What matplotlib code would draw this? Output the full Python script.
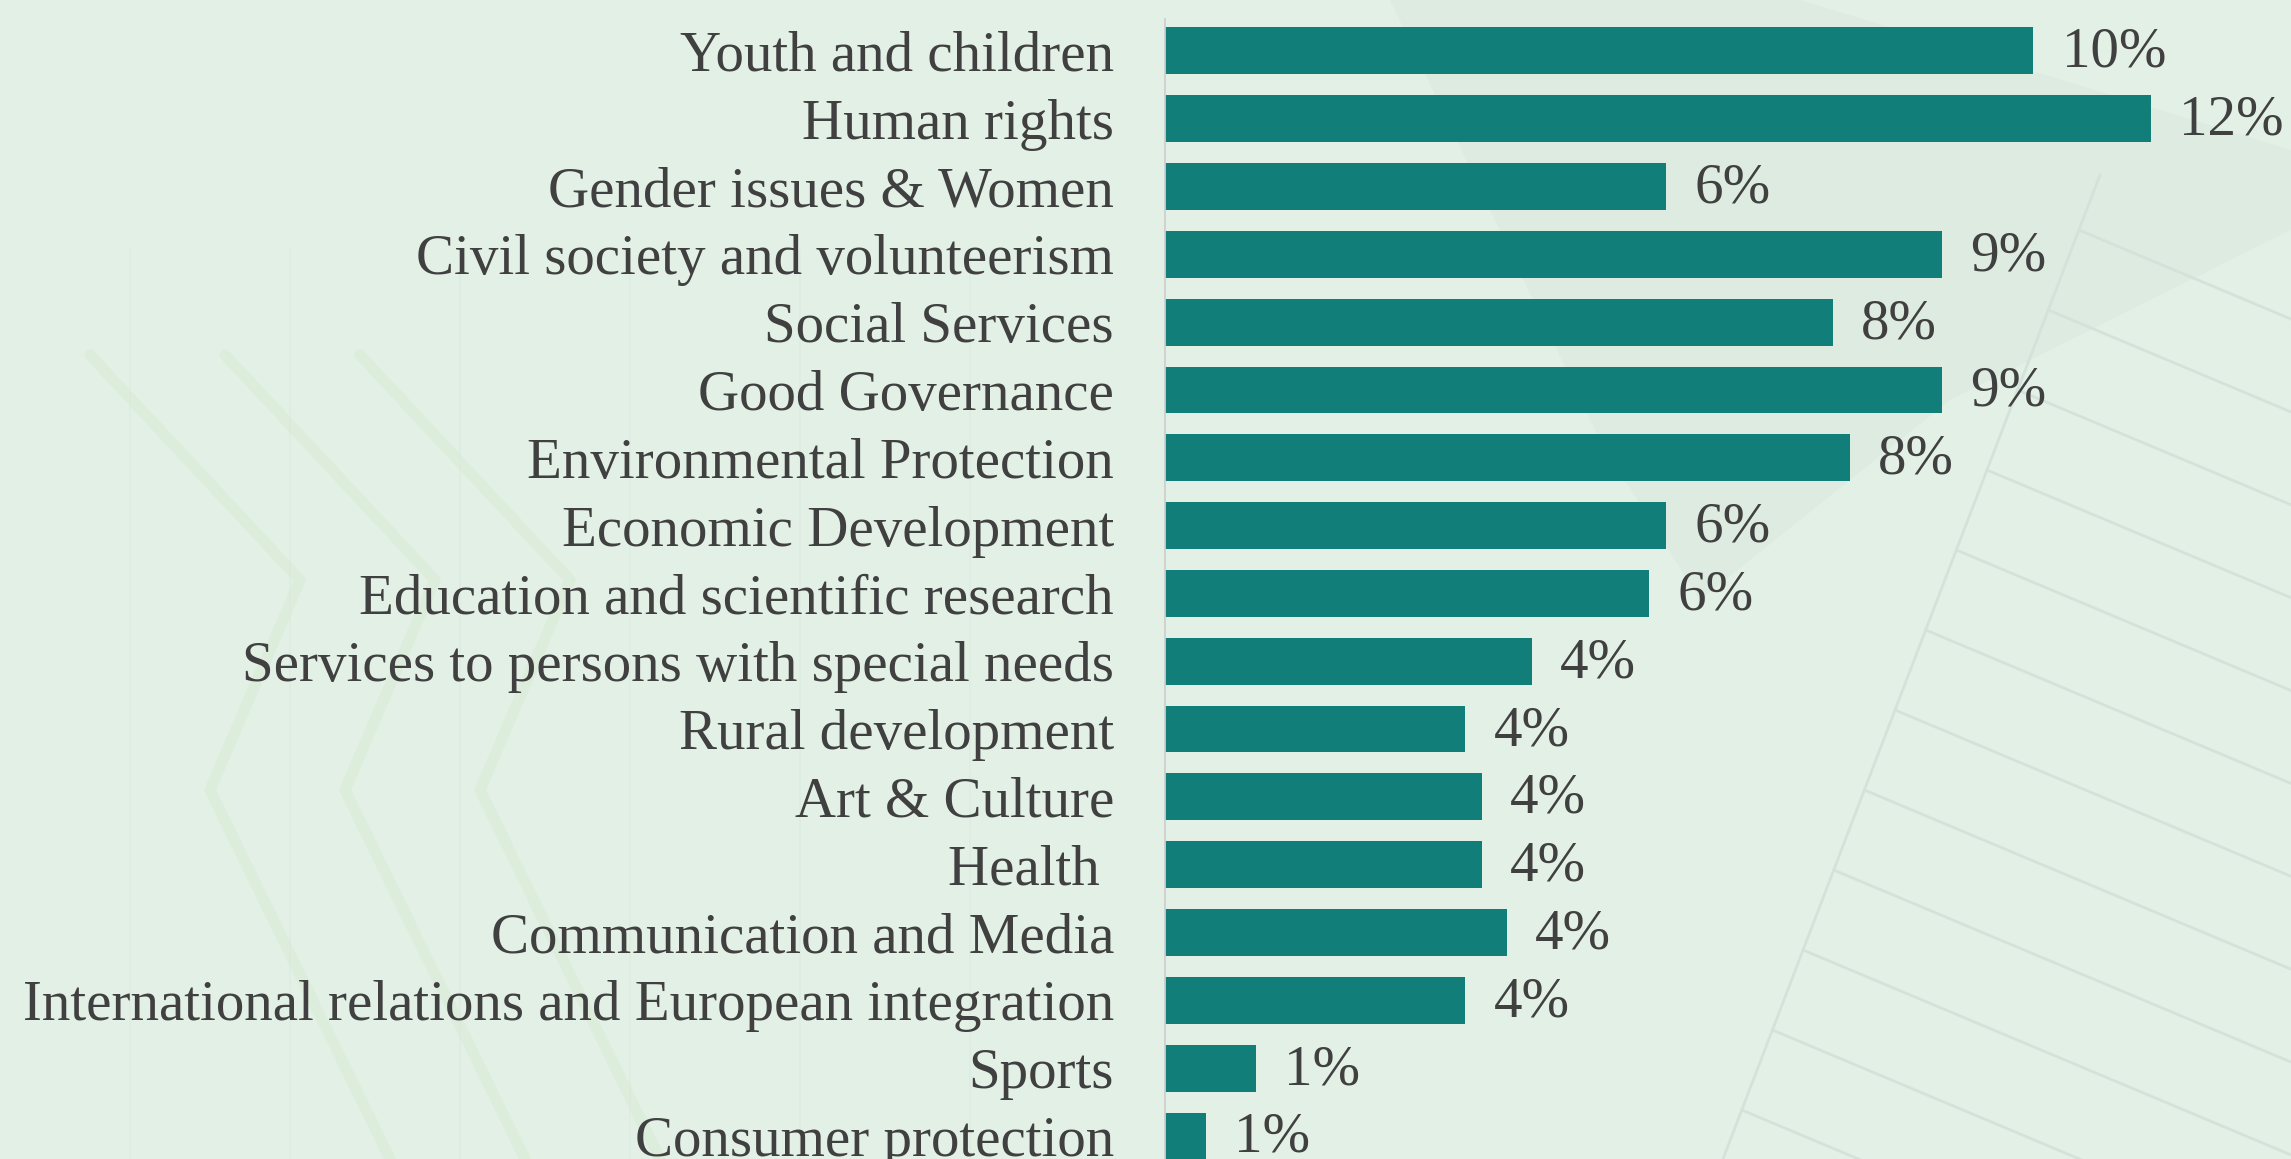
import matplotlib.pyplot as plt
from matplotlib.lines import Line2D
from matplotlib.patches import Polygon

# data
categories = ['Youth and children', 'Human rights', 'Gender issues & Women',
              'Civil society and volunteerism', 'Social Services', 'Good Governance',
              'Environmental Protection', 'Economic Development',
              'Education and scientific research', 'Services to persons with special needs',
              'Rural development', 'Art & Culture', 'Health ', 'Communication and Media',
              'International relations and European integration', 'Sports',
              'Consumer protection']
shares = [10.4, 11.8, 6.0, 9.3, 8.0, 9.3, 8.2, 6.0, 5.8, 4.4, 3.6, 3.8, 3.8, 4.1, 3.6, 1.1, 0.5]
share_labels = ['10%', '12%', '6%', '9%', '8%', '9%', '8%', '6%', '6%', '4%',
                '4%', '4%', '4%', '4%', '4%', '1%', '1%']

W, H = 2291, 1159
bg = '#e3f0e6'
bar_color = '#117e7a'
text_color = '#404040'
font = 'Liberation Serif'

fig = plt.figure(figsize=(W / 100, H / 100), dpi=100, facecolor=bg)


def px(x, y):
    # figure pixel coords (y from top) -> figure fraction
    return x / W, 1 - y / H


def deco_line(pts, **kw):
    xs, ys = zip(*[px(x, y) for x, y in pts])
    fig.add_artist(Line2D(xs, ys, transform=fig.transFigure, zorder=0, **kw))


# faint background decoration: chevrons on the left
for off in [0, 135, 270]:
    deco_line([(90 + off, 355), (300 + off, 580), (210 + off, 790), (390 + off, 1159)],
              color='#d9ebd3', lw=8, alpha=0.55, solid_capstyle='round')
for xv in [130, 290, 460, 630, 800, 970]:
    deco_line([(xv, 250), (xv, 1159)], color='#dbe9de', lw=1.2, alpha=0.6)

# shaded band top right
band = Polygon([px(1390, 0), px(1800, 0), px(2291, 150), px(2291, 230),
                px(1950, 400), px(1700, 600), px(1600, 440)],
               closed=True, transform=fig.transFigure, facecolor='#d6e5dc',
               edgecolor='none', alpha=0.45, zorder=0)
fig.add_artist(band)

# hatch lines lower right
deco_line([(1723, 1159), (2100, 175)], color='#d3e3da', lw=2)
for k in range(13):
    ys = 230 + k * 80
    xs = 2100 - (ys - 175) * (377 / 984)
    if ys > H:
        break
    deco_line([(xs, ys), (W, ys + (W - xs) * 0.42)], color='#d3e3da', lw=2)

ax = fig.add_axes([1164 / W, 0.0, 1 - 1164 / W, 1.0])
ax.set_facecolor('none')

y = list(range(len(categories)))
ax.barh(y, shares, height=0.69, color=bar_color, zorder=2)
for yi, v, lab in zip(y, shares, share_labels):
    ax.text(v + 0.34, yi + 0.03, lab, va='center', ha='left', fontsize=41,
            family=font, color=text_color)

ax.set_xlim(0, 13.48)
ax.set_ylim(16.34, -0.75)
ax.set_yticks(y)
ax.set_yticklabels(categories, fontsize=41, family=font, color=text_color)
ax.tick_params(axis='y', length=0, pad=36)
ax.set_xticks([])
for s in ax.spines.values():
    s.set_visible(False)
ax.axvline(0, ymin=0, ymax=0.984, color='#d0d0d0', lw=2, zorder=3)

fig.savefig('out.png', dpi=100, facecolor=bg)
